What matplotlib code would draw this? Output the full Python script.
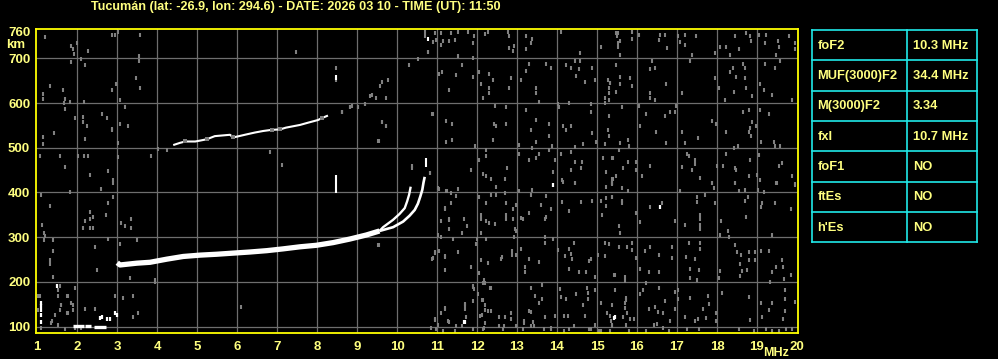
import numpy as np
import matplotlib.pyplot as plt

plt.rcParams['font.family'] = ['Liberation Sans', 'DejaVu Sans']
plt.rcParams['font.weight'] = 'bold'

title = "Tucumán (lat: -26.9, lon: 294.6) - DATE: 2026 03 10 - TIME (UT): 11:50"
freq_ticks = list(range(1, 21))
height_ticks = [100, 200, 300, 400, 500, 600, 700, 760]

# F2 trace (MHz, km)
f2_freq = [3.0, 3.07, 3.49, 3.82, 4.24, 4.65, 5.07, 5.49, 5.90, 6.32, 6.74, 7.15, 7.57, 7.98, 8.40, 8.82, 9.23, 9.56]
f2_height = [243, 238, 242, 244, 251, 257, 260, 262, 264.5, 267, 270, 274, 278.6, 282, 288, 296, 305, 314]
o_freq = [9.56, 9.65, 9.90, 10.06, 10.19, 10.25, 10.30, 10.34]
o_height = [314, 322.5, 339, 352, 365, 380, 395, 413]
x_freq = [9.56, 9.90, 10.15, 10.31, 10.44, 10.52, 10.58, 10.63, 10.66, 10.69]
x_height = [314, 322.5, 335, 348, 361, 375, 391, 406, 422, 435]

# short vertical echoes: freq, bottom, top
vert_freq = [8.48, 10.73, 8.48, 10.77]
vert_bottom = [398, 458, 652, 738]
vert_top = [439, 476, 662, 748]

# second hop
hop2_freq = [4.40, 4.57, 4.70, 4.95, 5.07, 5.24, 5.44, 5.82, 5.90, 6.24, 6.44, 6.65, 6.86, 7.07, 7.22, 7.57, 7.77, 8.02, 8.11, 8.27]
hop2_height = [506, 511, 514, 514, 516, 519, 526, 529, 523, 530, 534, 537.5, 540, 541, 545, 551, 556, 562, 566, 572]
hop2_white = [1, 1, 0, 1, 1, 0, 1, 1, 0, 1, 1, 1, 0, 0, 1, 1, 1, 1, 0, 1]

# E layer echoes
e_start = [1.89, 2.20, 2.43]
e_end = [2.16, 2.34, 2.72]
e_height = [101, 101, 100]
white_dots = [(1.09, 154), (1.09, 147), (1.09, 138), (1.09, 127), (1.09, 110), (1.49, 190),
              (2.57, 119), (2.62, 121), (2.74, 117), (2.82, 117), (2.95, 131), (2.99, 127),
              (11.68, 111), (15.43, 120), (13.90, 416), (16.58, 368), (15.44, 122), (11.69, 110)]

# background noise (MHz, km)
noise = [
    (10.94, 756), (11.09, 757), (11.34, 757), (11.53, 758), (11.78, 758), (12.28, 758), (12.78, 758),
    (12.79, 749), (13.23, 749), (13.38, 743), (13.34, 734), (13.23, 721), (12.79, 724), (12.93, 728),
    (12.90, 716), (12.19, 754), (11.93, 749), (11.90, 734), (11.44, 741), (11.29, 739), (11.15, 739),
    (11.11, 730), (10.90, 737), (10.98, 741), (10.78, 715), (11.53, 704), (11.90, 701), (14.09, 758),
    (15.09, 726), (14.57, 711), (14.57, 693), (14.44, 693), (14.23, 684), (14.34, 679), (14.54, 675),
    (14.48, 661), (14.88, 679), (14.94, 651), (14.69, 648), (15.28, 651), (15.33, 644), (15.29, 634),
    (15.29, 622), (15.19, 612), (15.29, 607), (13.73, 687), (13.84, 679), (13.29, 687), (13.23, 672),
    (13.11, 651), (12.84, 657), (12.40, 651), (12.29, 664), (12.04, 670), (12.09, 642), (12.29, 634),
    (12.29, 622), (12.15, 612), (12.79, 634), (13.48, 633), (13.48, 622), (13.54, 603), (11.63, 685),
    (11.48, 663), (11.90, 659), (11.29, 629), (11.13, 670), (11.04, 664), (14.03, 597), (14.29, 601),
    (14.84, 598), (15.19, 599), (14.84, 581), (15.29, 572), (14.04, 590), (13.23, 584), (12.73, 590),
    (12.44, 594), (12.43, 554), (12.48, 549), (12.73, 553), (12.40, 517), (13.48, 562), (13.79, 553),
    (13.34, 540), (13.79, 527), (13.48, 513), (14.15, 549), (14.34, 549), (14.23, 540), (14.88, 534),
    (15.28, 540), (15.29, 527), (14.98, 513), (15.19, 509), (14.65, 509), (14.44, 502), (13.88, 504),
    (13.38, 500), (13.04, 506), (10.89, 575), (11.23, 560), (11.38, 553), (11.23, 513), (11.38, 517),
    (11.94, 504), (12.23, 495), (12.23, 481), (12.04, 472), (11.84, 450), (12.15, 441), (12.23, 437),
    (12.34, 431), (12.69, 431), (12.74, 455), (13.04, 486), (13.29, 472), (13.54, 486), (13.48, 478),
    (13.79, 495), (13.94, 472), (13.89, 446), (14.09, 486), (14.34, 491), (14.44, 469), (14.63, 469),
    (14.34, 450), (14.59, 455), (15.23, 446), (15.40, 478), (15.15, 476), (15.40, 431), (14.44, 422),
    (14.13, 428), (10.82, 443),
    (15.48, 757), (15.53, 756), (15.50, 749), (15.57, 739), (15.53, 734), (15.53, 726), (15.58, 707),
    (15.88, 758), (15.88, 743), (16.05, 752), (16.58, 752), (16.69, 752), (16.55, 741), (16.75, 724),
    (17.03, 749), (17.19, 752), (17.08, 736), (17.19, 730), (17.48, 749), (17.38, 707), (17.94, 711),
    (18.08, 726), (18.23, 726), (18.33, 707), (18.44, 749), (18.55, 721), (18.73, 756), (18.83, 749),
    (18.86, 739), (19.05, 752), (19.23, 752), (19.19, 734), (19.53, 739), (19.55, 726), (19.80, 749),
    (19.94, 734), (19.94, 721), (19.48, 707), (19.58, 693), (19.19, 687), (19.44, 679), (15.48, 684),
    (15.58, 659), (15.83, 657), (15.58, 642), (15.88, 639), (15.48, 625), (15.33, 644), (16.38, 693),
    (16.33, 676), (16.44, 679), (16.73, 642), (16.33, 622), (16.33, 612), (16.44, 607), (17.33, 693),
    (17.13, 622), (17.94, 657), (18.05, 634), (18.19, 607), (18.40, 679), (18.33, 670), (18.48, 659),
    (18.65, 687), (18.69, 679), (18.69, 657), (18.73, 634), (18.42, 625), (18.88, 616), (19.08, 642),
    (19.17, 629), (19.38, 619), (19.88, 607), (15.63, 590), (16.05, 594), (16.23, 575), (16.69, 572),
    (16.83, 581), (16.94, 581), (16.98, 594), (16.08, 549), (16.48, 536), (17.13, 536), (17.53, 522),
    (17.88, 560), (17.98, 554), (18.23, 536), (18.65, 579), (18.80, 584), (18.88, 558), (18.83, 545),
    (18.80, 536), (18.86, 527), (18.98, 549), (19.08, 584), (19.30, 575), (19.11, 513), (19.42, 513),
    (19.58, 504), (19.44, 504), (18.53, 504), (18.42, 500), (15.58, 510), (15.78, 517), (15.80, 504),
    (16.73, 510), (17.19, 510), (15.55, 495), (15.38, 478), (15.78, 469), (15.98, 469), (15.98, 450),
    (15.65, 454), (15.48, 437), (15.38, 431), (15.38, 422), (16.13, 437), (16.33, 460), (17.25, 487),
    (17.30, 482), (17.44, 472), (17.44, 463), (17.38, 450), (17.13, 457), (17.58, 433), (17.88, 422),
    (18.01, 460), (18.15, 460), (18.23, 487), (18.48, 450), (18.44, 455), (19.01, 440), (18.83, 472),
    (18.80, 437), (19.08, 428), (19.05, 484), (19.55, 460), (19.63, 465), (19.88, 437), (19.94, 418),
    (19.50, 422), (18.44, 422),
    (11.04, 407), (11.26, 404), (11.34, 399), (11.53, 407), (11.48, 392), (12.04, 390), (12.34, 394),
    (12.48, 394), (12.48, 413), (12.69, 398), (13.04, 404), (13.38, 405), (13.34, 394), (13.73, 392),
    (14.15, 424), (14.44, 421), (15.23, 413), (15.38, 420), (15.38, 389), (15.09, 382), (15.23, 387),
    (15.23, 370), (15.13, 350), (14.88, 382), (14.59, 379), (14.13, 379), (14.29, 359), (11.34, 377),
    (11.19, 362), (11.09, 337), (11.29, 340), (11.29, 318), (11.68, 340), (11.76, 324), (11.63, 310),
    (12.09, 350), (12.09, 340), (12.09, 309), (12.23, 377), (12.23, 337), (12.29, 331), (12.44, 330),
    (12.73, 377), (12.73, 350), (12.73, 340), (12.90, 362), (12.90, 340), (12.94, 318), (12.98, 313),
    (12.93, 300), (12.98, 372), (13.09, 344), (13.15, 340), (13.29, 355), (13.59, 372), (13.84, 364),
    (13.73, 346), (13.69, 340), (11.03, 305), (11.09, 300), (11.40, 296), (11.98, 285), (12.01, 296),
    (12.23, 296), (12.09, 248), (12.28, 242), (12.63, 256), (12.59, 251), (12.88, 270), (12.88, 261),
    (12.98, 261), (13.09, 273), (13.29, 251), (13.54, 244), (13.19, 233), (13.19, 222), (13.69, 300),
    (13.90, 296), (13.69, 288), (14.03, 272), (14.19, 259), (14.29, 273), (14.34, 263), (14.43, 287),
    (14.38, 251), (14.79, 246), (15.03, 261), (15.19, 257), (15.19, 288), (15.29, 285), (14.29, 229),
    (14.54, 222), (14.73, 222), (14.94, 211), (15.43, 216), (14.86, 251), (10.94, 268), (11.04, 270),
    (11.53, 266), (11.19, 256), (10.88, 251), (11.19, 226), (11.84, 233), (12.04, 220), (12.18, 204),
    (12.19, 198), (11.90, 189), (11.93, 185), (12.03, 172), (12.34, 187), (12.15, 160), (12.19, 148),
    (12.19, 137), (12.36, 135), (12.07, 125), (11.90, 157), (11.71, 150), (11.69, 140), (11.73, 122),
    (11.19, 140), (10.94, 118), (11.03, 103), (11.09, 130), (11.29, 111), (11.48, 102), (11.63, 102),
    (12.21, 109), (12.18, 96), (12.54, 122), (12.54, 102), (12.69, 122), (12.84, 130), (12.84, 118),
    (12.68, 102), (12.98, 102), (13.18, 113), (13.18, 108), (13.34, 187), (13.44, 168), (13.54, 152),
    (13.63, 162), (13.63, 194), (13.34, 133), (13.40, 111), (13.43, 102), (13.29, 135), (13.71, 122),
    (13.84, 98), (13.96, 125), (14.07, 185), (14.09, 167), (14.23, 162), (14.48, 172), (14.76, 187),
    (14.78, 176), (14.78, 162), (14.94, 183), (14.65, 148), (15.11, 152), (15.26, 130), (15.32, 124),
    (15.34, 113), (15.38, 102), (14.18, 125), (14.28, 125), (14.43, 102), (14.71, 125), (14.96, 103),
    (14.86, 94), (15.11, 91), (15.32, 91),
    (15.38, 421), (15.63, 409), (15.78, 404), (15.38, 390), (15.63, 381), (15.63, 376), (16.63, 377),
    (16.33, 368), (15.98, 355), (16.08, 335), (15.55, 324), (15.58, 310), (17.08, 404), (17.50, 390),
    (17.50, 379), (17.69, 394), (17.94, 377), (17.88, 421), (17.92, 411), (18.44, 421), (18.55, 404),
    (18.69, 405), (18.78, 389), (18.69, 381), (19.03, 405), (19.17, 401), (19.13, 376), (19.11, 368),
    (19.44, 377), (19.48, 421), (19.94, 416), (19.86, 362), (17.58, 350), (17.58, 340), (17.58, 327),
    (17.58, 318), (17.19, 327), (16.94, 337), (18.11, 337), (18.28, 315), (18.08, 305), (18.30, 300),
    (18.72, 346), (19.38, 305), (15.55, 279), (15.75, 279), (15.88, 288), (15.88, 272), (15.98, 253),
    (16.19, 270), (16.33, 279), (16.55, 261), (16.88, 279), (16.88, 253), (17.30, 288), (17.58, 288),
    (17.58, 273), (17.23, 256), (17.44, 251), (17.33, 229), (17.55, 226), (17.33, 209), (17.50, 204),
    (16.08, 229), (16.30, 222), (16.55, 222), (15.44, 216), (15.69, 211), (15.69, 202), (16.23, 198),
    (18.44, 283), (18.50, 266), (18.61, 261), (18.80, 266), (18.94, 266), (18.80, 248), (18.94, 248),
    (18.58, 241), (18.63, 224), (18.75, 226), (18.58, 213), (18.07, 224), (18.05, 209), (19.11, 270),
    (19.30, 270), (19.63, 248), (19.65, 233), (19.48, 233), (19.38, 222), (19.86, 216), (19.67, 207),
    (19.33, 199), (15.44, 182), (15.72, 165), (15.72, 160), (15.69, 152), (15.69, 142), (15.38, 148),
    (15.75, 130), (15.65, 122), (15.83, 117), (15.92, 117), (16.08, 172), (16.15, 183), (16.55, 187),
    (16.69, 157), (16.44, 145), (16.30, 140), (16.53, 133), (16.65, 130), (16.94, 177), (16.94, 139),
    (17.03, 182), (17.03, 162), (17.33, 165), (17.19, 122), (17.44, 113), (17.65, 140), (17.78, 168),
    (17.80, 150), (17.73, 120), (17.97, 131), (17.98, 113), (18.13, 176), (17.53, 117), (18.80, 167),
    (19.11, 152), (19.38, 152), (19.30, 137), (19.69, 182), (19.69, 163), (19.69, 135), (19.65, 117),
    (19.13, 122), (18.82, 115), (19.94, 155), (16.42, 103), (16.50, 105), (16.65, 98), (16.83, 113),
    (15.73, 103), (15.38, 103),
    (12.64, 95), (13.14, 95), (13.35, 101), (13.68, 95), (13.85, 95), (14.18, 90), (14.31, 94),
    (14.81, 94), (15.06, 90), (15.81, 90), (16.22, 90), (16.81, 90), (17.26, 94), (17.55, 94),
    (18.55, 94), (18.93, 90), (19.22, 94), (19.38, 90), (19.55, 90), (19.72, 94), (19.88, 94),
    (10.98, 95), (11.14, 90), (11.44, 90), (11.89, 95), (12.14, 95), (10.85, 97),
    (11.19, 142), (11.69, 149), (11.89, 190), (12.14, 197), (12.13, 160), (12.13, 127), (12.33, 186),
    (12.27, 134), (11.27, 112), (10.94, 116),
    (2.86, 752), (2.94, 751), (3.03, 758), (3.58, 752), (3.55, 704), (3.55, 693), (3.48, 657),
    (3.58, 634), (2.98, 642), (2.86, 629), (3.08, 607), (3.19, 590), (3.08, 553), (3.28, 549),
    (2.88, 540), (7.48, 713), (8.48, 679), (8.48, 651), (10.30, 684), (10.53, 699), (10.69, 758),
    (10.69, 749), (10.78, 715), (9.78, 651), (9.63, 648), (9.58, 637), (9.38, 619), (9.33, 616),
    (9.48, 612), (9.73, 612), (9.19, 597), (9.03, 590), (8.88, 594), (8.83, 590), (8.63, 579),
    (9.63, 558), (9.73, 549), (8.63, 581), (8.83, 590), (9.02, 590), (9.19, 598),
    (1.20, 747), (1.84, 727), (1.89, 720), (1.91, 709), (1.99, 735), (1.84, 692), (2.09, 698),
    (2.26, 717), (2.20, 685), (1.32, 638), (1.14, 620), (1.14, 610), (1.64, 629), (1.70, 608),
    (1.67, 599), (1.81, 603), (1.70, 586), (2.16, 603), (1.95, 566), (2.14, 569), (2.14, 558),
    (2.24, 549), (2.62, 575), (2.74, 566), (2.87, 541), (3.03, 510), (1.14, 523), (1.14, 508),
    (1.42, 532), (2.20, 519), (3.01, 479), (1.56, 482), (2.03, 482), (2.16, 482), (2.26, 482),
    (1.70, 456), (1.07, 482), (1.09, 395), (2.32, 439), (2.78, 449), (2.89, 428), (2.89, 421),
    (2.89, 391), (2.78, 377), (2.59, 407), (1.81, 400), (1.31, 369), (2.32, 357), (2.32, 340),
    (2.39, 346), (2.20, 337), (2.14, 320), (2.31, 320), (2.39, 320), (2.72, 350), (1.12, 328),
    (1.20, 302), (1.16, 294), (1.16, 309), (1.39, 293), (1.39, 270), (2.45, 279), (2.78, 296),
    (1.31, 241), (1.31, 248), (1.39, 212), (2.49, 227), (1.56, 190), (1.95, 186), (1.59, 149),
    (1.84, 153), (1.89, 149), (1.51, 183), (1.51, 168), (1.76, 168), (1.89, 138), (1.37, 112),
    (1.45, 127), (1.56, 138), (1.78, 131), (1.01, 168), (1.01, 138), (1.09, 97),
    (1.06, 168), (1.34, 108), (1.59, 149), (1.74, 131), (2.20, 140), (2.45, 140), (1.74, 168),
    (1.70, 95), (1.53, 104), (1.95, 98), (2.10, 97),
    (2.95, 168), (3.15, 164), (3.39, 168), (3.53, 131), (3.40, 122), (6.09, 143), (3.95, 205),
    (7.13, 462), (6.82, 491), (4.03, 497), (4.24, 495), (3.84, 482), (9.52, 514), (9.73, 549),
    (9.63, 558), (10.88, 575), (10.38, 454), (10.38, 459), (10.83, 443), (11.02, 410), (9.52, 283),
    (3.95, 201), (3.32, 209), (3.09, 331), (3.34, 320), (3.34, 341), (3.20, 324), (3.49, 293),
    (3.07, 285), (11.23, 404), (11.19, 365), (11.30, 339), (10.94, 264), (11.19, 257), (10.90, 253),
    (9.54, 514), (9.54, 283), (8.63, 581),
]

params = ["foF2", "MUF(3000)F2", "M(3000)F2", "fxI", "foF1", "ftEs", "h'Es"]
values = ["10.3 MHz", "34.4 MHz", "3.34", "10.7 MHz", "NO", "NO", "NO"]

txt = '#ffff80'
grid_c = '#6e6e6e'
noise_c = '#808080'

fig = plt.figure(figsize=(9.98, 3.59), dpi=100, facecolor='black')
ax = fig.add_axes([35.7 / 998, 26.3 / 359, 762 / 998, 303.4 / 359], facecolor='black')
ax.set_xlim(0.96, 20.02)
ax.set_ylim(86.6, 764.8)

for f in freq_ticks[1:-1]:
    ax.axvline(f, color=grid_c, lw=0.9, zorder=1)
for h in height_ticks[:-1]:
    ax.axhline(h, color=grid_c, lw=0.9, zorder=1)

nz = np.array(noise)
ax.plot(nz[:, 0], nz[:, 1], ls='none', marker='|', ms=3.0, mew=1.5, color=noise_c, zorder=2)

wd = np.array(white_dots)
ax.plot(wd[:, 0], wd[:, 1], ls='none', marker='|', ms=3.0, mew=1.6, color='white', zorder=3)

# second hop: thin broken trace with grey patches
hw = np.array(hop2_white, dtype=bool)
hf = np.array(hop2_freq)
hh = np.array(hop2_height)
ax.plot(hf, hh, color='white', lw=1.5, solid_capstyle='butt', zorder=3)
ax.plot(hf[~hw], hh[~hw], ls='none', marker='s', ms=2.6, mew=0, color=noise_c, zorder=3)

ax.plot(f2_freq, f2_height, color='white', lw=3.8, solid_capstyle='butt', zorder=4)
ax.plot(o_freq, o_height, color='white', lw=1.7, solid_capstyle='butt', zorder=4)
ax.plot(x_freq, x_height, color='white', lw=1.9, solid_capstyle='butt', zorder=4)
ax.vlines(vert_freq, vert_bottom, vert_top, color='white', lw=1.5, zorder=4)
ax.hlines(e_height, e_start, e_end, color='white', lw=2.4, zorder=4)

for s in ax.spines.values():
    s.set_color('#ffff00')
    s.set_linewidth(1.3)
ax.set_xticks(freq_ticks)
ax.set_xticklabels([str(f) for f in freq_ticks])
ax.set_yticks(height_ticks)
ax.set_yticklabels([str(h) for h in height_ticks])
ax.tick_params(length=0, colors=txt, labelsize=9.5, pad=6)
ax.tick_params(axis='y', pad=4)

fig.text(91 / 998, 1 - 7 / 359, title, color=txt, fontsize=9.1, ha='left', va='center')
fig.text(6 / 998, 1 - 45 / 359, "km", color=txt, fontsize=9.5, ha='left', va='center')
fig.text(763 / 998, 1 - 353 / 359, "MHz", color=txt, fontsize=9, ha='left', va='center')

# parameter table
tab = fig.add_axes([812.3 / 998, (359 - 242.3) / 359, 165 / 998, 212.3 / 359])
tab.set_xlim(0, 1)
tab.set_ylim(len(params), 0)
tab.axis('off')
edge = '#20e8e8'
for i in range(len(params) + 1):
    tab.plot([0, 1], [i, i], color=edge, lw=1.2, clip_on=False)
tab.plot([0, 0], [0, len(params)], color=edge, lw=1.2, clip_on=False)
tab.plot([1, 1], [0, len(params)], color=edge, lw=1.2, clip_on=False)
tab.plot([0.576, 0.576], [0, len(params)], color=edge, lw=1.2, clip_on=False)
for i, (p, v) in enumerate(zip(params, values)):
    tab.text(0.03, i + 0.52, p, color=txt, fontsize=9.3, ha='left', va='center')
    tab.text(0.61, i + 0.52, v, color=txt, fontsize=9.3, ha='left', va='center')

fig.savefig('out.png', dpi=100, facecolor='black')
